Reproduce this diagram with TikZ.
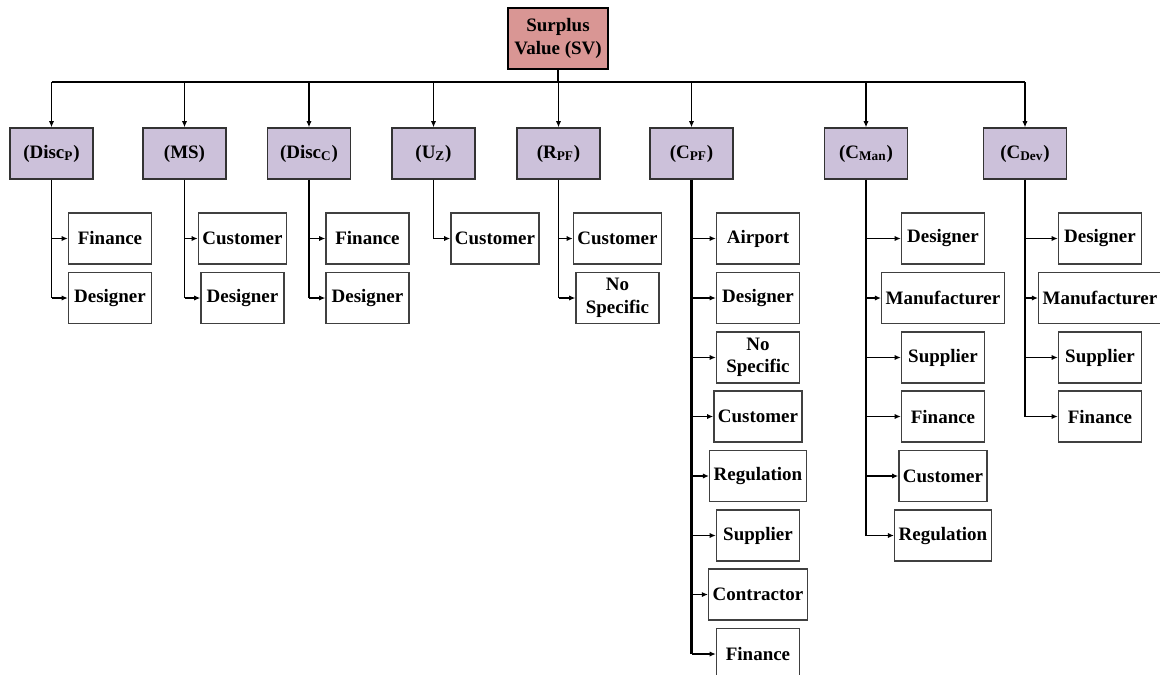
\documentclass[tikz,border=0pt]{standalone}
\usepackage{fontspec}
\setmainfont{Liberation Serif}
\usetikzlibrary{arrows.meta}
\definecolor{svfill}{HTML}{D99694}
\definecolor{catfill}{HTML}{CCC1DA}
\tikzset{
  boxfont/.style={font=\bfseries\fontsize{10.8}{12.8}\selectfont},
  svbox/.style={boxfont, draw=black, fill=svfill, line width=0.8pt, minimum width=2cm, minimum height=1.22cm, align=center, inner sep=1pt},
  catbox/.style={boxfont, draw=black!80, fill=catfill, line width=0.8pt, minimum width=1.66cm, minimum height=1.02cm, inner sep=1pt},
  stkbox/.style={boxfont, draw=black!75, fill=white, line width=0.8pt, minimum width=1.66cm, minimum height=1.02cm, inner xsep=2.3pt, inner ysep=1pt, align=center},
  link/.style={line width=0.7pt},
  arr/.style={link, -{Latex[length=3.5pt,width=3pt]}}
}
\begin{document}
\begin{tikzpicture}[x=0.02cm, y=-0.02cm]
\useasboundingbox (0,0) rectangle (1160,674);
\node[svbox] (sv) at (558,38.5) {Surplus\\Value (SV)};
\coordinate (bus) at (0,82);
\node[catbox] (discp) at (51.5,153.5) {(Disc\textsubscript{P})};
\node[catbox] (ms) at (184.5,153.5) {(MS)};
\node[catbox] (discc) at (309,153.5) {(Disc\textsubscript{C})};
\node[catbox] (uz) at (433.5,153.5) {(U\textsubscript{Z})};
\node[catbox] (rpf) at (558.5,153.5) {(R\textsubscript{PF})};
\node[catbox] (cpf) at (691.5,153.5) {(C\textsubscript{PF})};
\node[catbox] (cman) at (866,153.5) {(C\textsubscript{Man})};
\node[catbox] (cdev) at (1025,153.5) {(C\textsubscript{Dev})};
\draw[link] (sv.south) -- (sv.south |- bus);
\draw[link] (discp.north |- bus) -- (cdev.north |- bus);
\foreach \n in {discp,ms,discc,uz,rpf,cpf,cman,cdev}
  \draw[arr] (\n.north |- bus) -- (\n.north);
% stakeholders
\node[stkbox] (discp-fin) at (110,238.5) {Finance};
\node[stkbox] (discp-des) at (110,298) {Designer};
\node[stkbox] (ms-cus) at (242.5,238.5) {Customer};
\node[stkbox] (ms-des) at (242.5,298) {Designer};
\node[stkbox] (discc-fin) at (367.5,238.5) {Finance};
\node[stkbox] (discc-des) at (367.5,298) {Designer};
\node[stkbox] (uz-cus) at (495,238.5) {Customer};
\node[stkbox] (rpf-cus) at (617.5,238.5) {Customer};
\node[stkbox] (rpf-nos) at (617.5,298) {No\\Specific};
\node[stkbox] (cpf-air) at (758,238.5) {Airport};
\node[stkbox] (cpf-des) at (758,298) {Designer};
\node[stkbox] (cpf-nos) at (758,357.5) {No\\Specific};
\node[stkbox] (cpf-cus) at (758,416.5) {Customer};
\node[stkbox] (cpf-reg) at (758,476) {Regulation};
\node[stkbox] (cpf-sup) at (758,535.5) {Supplier};
\node[stkbox] (cpf-con) at (758,594.5) {Contractor};
\node[stkbox] (cpf-fin) at (758,654) {Finance};
\node[stkbox] (cman-des) at (943,238.5) {Designer};
\node[stkbox] (cman-man) at (943,298) {Manufacturer};
\node[stkbox] (cman-sup) at (943,357.5) {Supplier};
\node[stkbox] (cman-fin) at (943,416.5) {Finance};
\node[stkbox] (cman-cus) at (943,476) {Customer};
\node[stkbox] (cman-reg) at (943,535.5) {Regulation};
\node[stkbox] (cdev-des) at (1100,238.5) {Designer};
\node[stkbox] (cdev-man) at (1100,298) {Manufacturer};
\node[stkbox] (cdev-sup) at (1100,357.5) {Supplier};
\node[stkbox] (cdev-fin) at (1100,416.5) {Finance};
% connectors
\draw[link] (discp.south) -- (discp.south |- discp-des);
\foreach \c in {discp-fin,discp-des} \draw[arr] (discp.south |- \c) -- (\c.west);
\draw[link] (ms.south) -- (ms.south |- ms-des);
\foreach \c in {ms-cus,ms-des} \draw[arr] (ms.south |- \c) -- (\c.west);
\draw[link] (discc.south) -- (discc.south |- discc-des);
\foreach \c in {discc-fin,discc-des} \draw[arr] (discc.south |- \c) -- (\c.west);
\draw[link] (uz.south) -- (uz.south |- uz-cus);
\draw[arr] (uz.south |- uz-cus) -- (uz-cus.west);
\draw[link] (rpf.south) -- (rpf.south |- rpf-nos);
\foreach \c in {rpf-cus,rpf-nos} \draw[arr] (rpf.south |- \c) -- (\c.west);
\draw[link, line width=1.6pt] (cpf.south) -- (cpf.south |- cpf-fin);
\foreach \c in {cpf-air,cpf-des,cpf-nos,cpf-cus,cpf-reg,cpf-sup,cpf-con,cpf-fin} \draw[arr] (cpf.south |- \c) -- (\c.west);
\draw[link] (cman.south) -- (cman.south |- cman-reg);
\foreach \c in {cman-des,cman-man,cman-sup,cman-fin,cman-cus,cman-reg} \draw[arr] (cman.south |- \c) -- (\c.west);
\draw[link] (cdev.south) -- (cdev.south |- cdev-fin);
\foreach \c in {cdev-des,cdev-man,cdev-sup,cdev-fin} \draw[arr] (cdev.south |- \c) -- (\c.west);
\end{tikzpicture}
\end{document}
